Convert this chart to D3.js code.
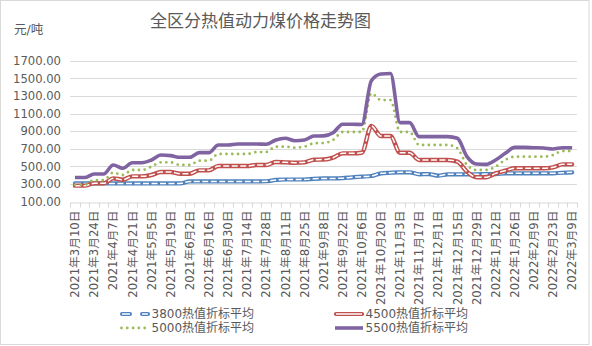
<!DOCTYPE html>
<html>
<head>
<meta charset="utf-8">
<script src="https://cdn.jsdelivr.net/npm/d3@7/dist/d3.min.js"></script>
<style>
  body { margin: 0; background: #fff; }
  svg { display: block; }
  text { font-family: "DejaVu Sans", "Noto Sans CJK SC", sans-serif; fill: #595959; }
</style>
</head>
<body>
<svg id="chart" width="592" height="346"></svg>
<script>
// Weekly reporting dates
const dates = [
  "2021年3月10日","2021年3月17日","2021年3月24日","2021年3月31日","2021年4月7日","2021年4月14日",
  "2021年4月21日","2021年4月28日","2021年5月5日","2021年5月12日","2021年5月19日","2021年5月26日",
  "2021年6月2日","2021年6月9日","2021年6月16日","2021年6月23日","2021年6月30日","2021年7月7日",
  "2021年7月14日","2021年7月21日","2021年7月28日","2021年8月4日","2021年8月11日","2021年8月18日",
  "2021年8月25日","2021年9月1日","2021年9月8日","2021年9月15日","2021年9月22日","2021年9月29日",
  "2021年10月6日","2021年10月13日","2021年10月20日","2021年10月27日","2021年11月3日","2021年11月10日",
  "2021年11月17日","2021年11月24日","2021年12月1日","2021年12月8日","2021年12月15日","2021年12月22日",
  "2021年12月29日","2022年1月5日","2022年1月12日","2022年1月19日","2022年1月26日","2022年2月2日",
  "2022年2月9日","2022年2月16日","2022年2月23日","2022年3月2日","2022年3月9日"
];

// Average converted prices by calorific value (元/吨)
const price3800 = [305,305,305,305,305,305,305,305,305,305,305,305,
  328,328,328,328,328,328,328,328,330,345,350,350,350,358,362,
  362,365,375,382,390,420,427,431,431,409,412,393,409,409,409,409,
  412,412,420,420,420,420,420,420,427,431];
const price4500 = [280,280,306,306,363,348,386,386,401,435,435,416,416,454,454,503,503,503,503,515,515,549,545,541,545,575,577,
  598,647,647,654,958,844,844,654,654,572,572,572,572,553,439,375,375,420,450,477,477,477,477,488,522,522];
const price5000 = [290,290,344,344,428,401,458,458,496,545,545,515,515,564,564,640,640,640,640,662,662,723,723,712,723,761,765,
  799,890,890,890,1329,1253,1253,890,890,742,742,742,742,704,515,458,458,496,572,609,609,609,609,628,674,674];
const price5500 = [372,372,412,412,515,477,541,541,572,628,621,602,602,655,655,742,742,753,753,753,750,799,818,791,799,844,846,
  882,978,978,975,1473,1549,1555,996,996,837,837,837,837,818,610,526,522,572,647,715,715,711,708,697,711,711];

const seriesNames = ["3800热值折标平均","4500热值折标平均","5000热值折标平均","5500热值折标平均"];
const yTicks = [100,300,500,700,900,1100,1300,1500,1700];
const chartTitle = "全区分热值动力煤价格走势图";
const unitLabel = "元/吨";

const svg = d3.select("#chart");

// chart frame
svg.append("rect").attr("x",0.5).attr("y",0.5).attr("width",588.5).attr("height",344)
  .attr("fill","#fff").attr("stroke","#d9d9d9");

const x = d3.scaleBand().domain(dates).range([70.2, 576.9]).padding(0);
const cx = d => x(d) + x.bandwidth() / 2;
const y = d3.scaleLinear().domain([100, 1700]).range([201.5, 60.7]);

// gridlines
svg.append("g").selectAll("line").data(yTicks.filter(t => t !== 100)).join("line")
  .attr("x1", 70.2).attr("x2", 576.9)
  .attr("y1", d => Math.round(y(d)) + 0.5).attr("y2", d => Math.round(y(d)) + 0.5)
  .attr("stroke", "#d9d9d9").attr("stroke-width", 1);

// y axis labels
const yAxis = svg.append("g").attr("transform", "translate(61,0)")
  .call(d3.axisLeft(y).tickValues(yTicks).tickSize(0).tickPadding(0).tickFormat(d3.format(".2f")));
yAxis.select(".domain").remove();
yAxis.selectAll("text").attr("font-size", "11.6px").attr("fill", "#595959")
  .attr("font-family", "DejaVu Sans, sans-serif");

// x axis
const baseY = Math.round(y(100)) + 0.5;
const xAxis = svg.append("g").attr("transform", `translate(0,${baseY})`)
  .call(d3.axisBottom(x).tickSize(0).tickFormat(""));
xAxis.select(".domain").attr("stroke", "#d9d9d9");
xAxis.selectAll(".tick").remove();
const boundaries = dates.map(d => x(d)).concat([x(dates[dates.length - 1]) + x.bandwidth()]);
svg.append("g").selectAll("line").data(boundaries).join("line")
  .attr("x1", d => Math.round(d) + 0.5).attr("x2", d => Math.round(d) + 0.5)
  .attr("y1", baseY).attr("y2", baseY + 5)
  .attr("stroke", "#d9d9d9");

svg.append("g").selectAll("text").data(dates.filter((d, i) => i % 2 === 0)).join("text")
  .attr("transform", d => `translate(${cx(d) + 4.2},${baseY + 8}) rotate(-90)`)
  .attr("text-anchor", "end")
  .attr("font-size", "11.7px")
  .text(d => d);

// series lines, smoothed without overshooting the weekly values
const line = d3.line().x((v, i) => cx(dates[i])).y(v => y(v)).curve(d3.curveMonotoneX);
const plot = svg.append("g");

function drawDouble(data, outer, w) {
  plot.append("path").attr("d", line(data)).attr("fill", "none")
    .attr("stroke", outer).attr("stroke-width", w).attr("stroke-linejoin", "round").attr("stroke-linecap", "round");
  plot.append("path").attr("d", line(data)).attr("fill", "none")
    .attr("stroke", "#fff").attr("stroke-width", 1.5).attr("stroke-dasharray", "6,2.5");
}
drawDouble(price3800, "#4F81BD", 4.2);
drawDouble(price4500, "#C0504D", 4.4);
plot.append("path").attr("d", line(price5000)).attr("fill", "none")
  .attr("stroke", "#9BBB59").attr("stroke-width", 2.8).attr("stroke-linecap", "round")
  .attr("stroke-dasharray", "0,5.8");
plot.append("path").attr("d", line(price5500)).attr("fill", "none")
  .attr("stroke", "#8064A2").attr("stroke-width", 3.6).attr("stroke-linejoin", "round");

// title and unit
svg.append("text").attr("x", 260.5).attr("y", 27).attr("text-anchor", "middle")
  .attr("font-size", "17px").attr("fill", "#404040").text(chartTitle);
svg.append("text").attr("x", 14).attr("y", 34).attr("font-size", "12.5px").text(unitLabel);

// legend
const lg = svg.append("g");
const rows = [314, 328];
function legendText(xp, yp, t) {
  lg.append("text").attr("x", xp).attr("y", yp).attr("dy", "0.36em").attr("font-size", "12px").text(t);
}
// 3800
[[122, 130], [142, 148]].forEach(([a, b]) => {
  lg.append("line").attr("x1", a).attr("x2", b).attr("y1", rows[0]).attr("y2", rows[0])
    .attr("stroke", "#4F81BD").attr("stroke-width", 4).attr("stroke-linecap", "round");
  lg.append("line").attr("x1", a).attr("x2", b).attr("y1", rows[0]).attr("y2", rows[0])
    .attr("stroke", "#fff").attr("stroke-width", 1.5);
});
legendText(151.5, rows[0], seriesNames[0]);
// 4500
lg.append("line").attr("x1", 336).attr("x2", 362).attr("y1", rows[0]).attr("y2", rows[0])
  .attr("stroke", "#C0504D").attr("stroke-width", 4.2).attr("stroke-linecap", "round");
lg.append("line").attr("x1", 336).attr("x2", 362).attr("y1", rows[0]).attr("y2", rows[0])
  .attr("stroke", "#fff").attr("stroke-width", 1.5);
legendText(365.5, rows[0], seriesNames[1]);
// 5000
lg.append("line").attr("x1", 121.5).attr("x2", 146).attr("y1", rows[1]).attr("y2", rows[1])
  .attr("stroke", "#9BBB59").attr("stroke-width", 2.8).attr("stroke-linecap", "round")
  .attr("stroke-dasharray", "0,5.8");
legendText(151.5, rows[1], seriesNames[2]);
// 5500
lg.append("line").attr("x1", 335).attr("x2", 363).attr("y1", rows[1]).attr("y2", rows[1])
  .attr("stroke", "#8064A2").attr("stroke-width", 3.6);
legendText(365.5, rows[1], seriesNames[3]);
</script>
</body>
</html>
